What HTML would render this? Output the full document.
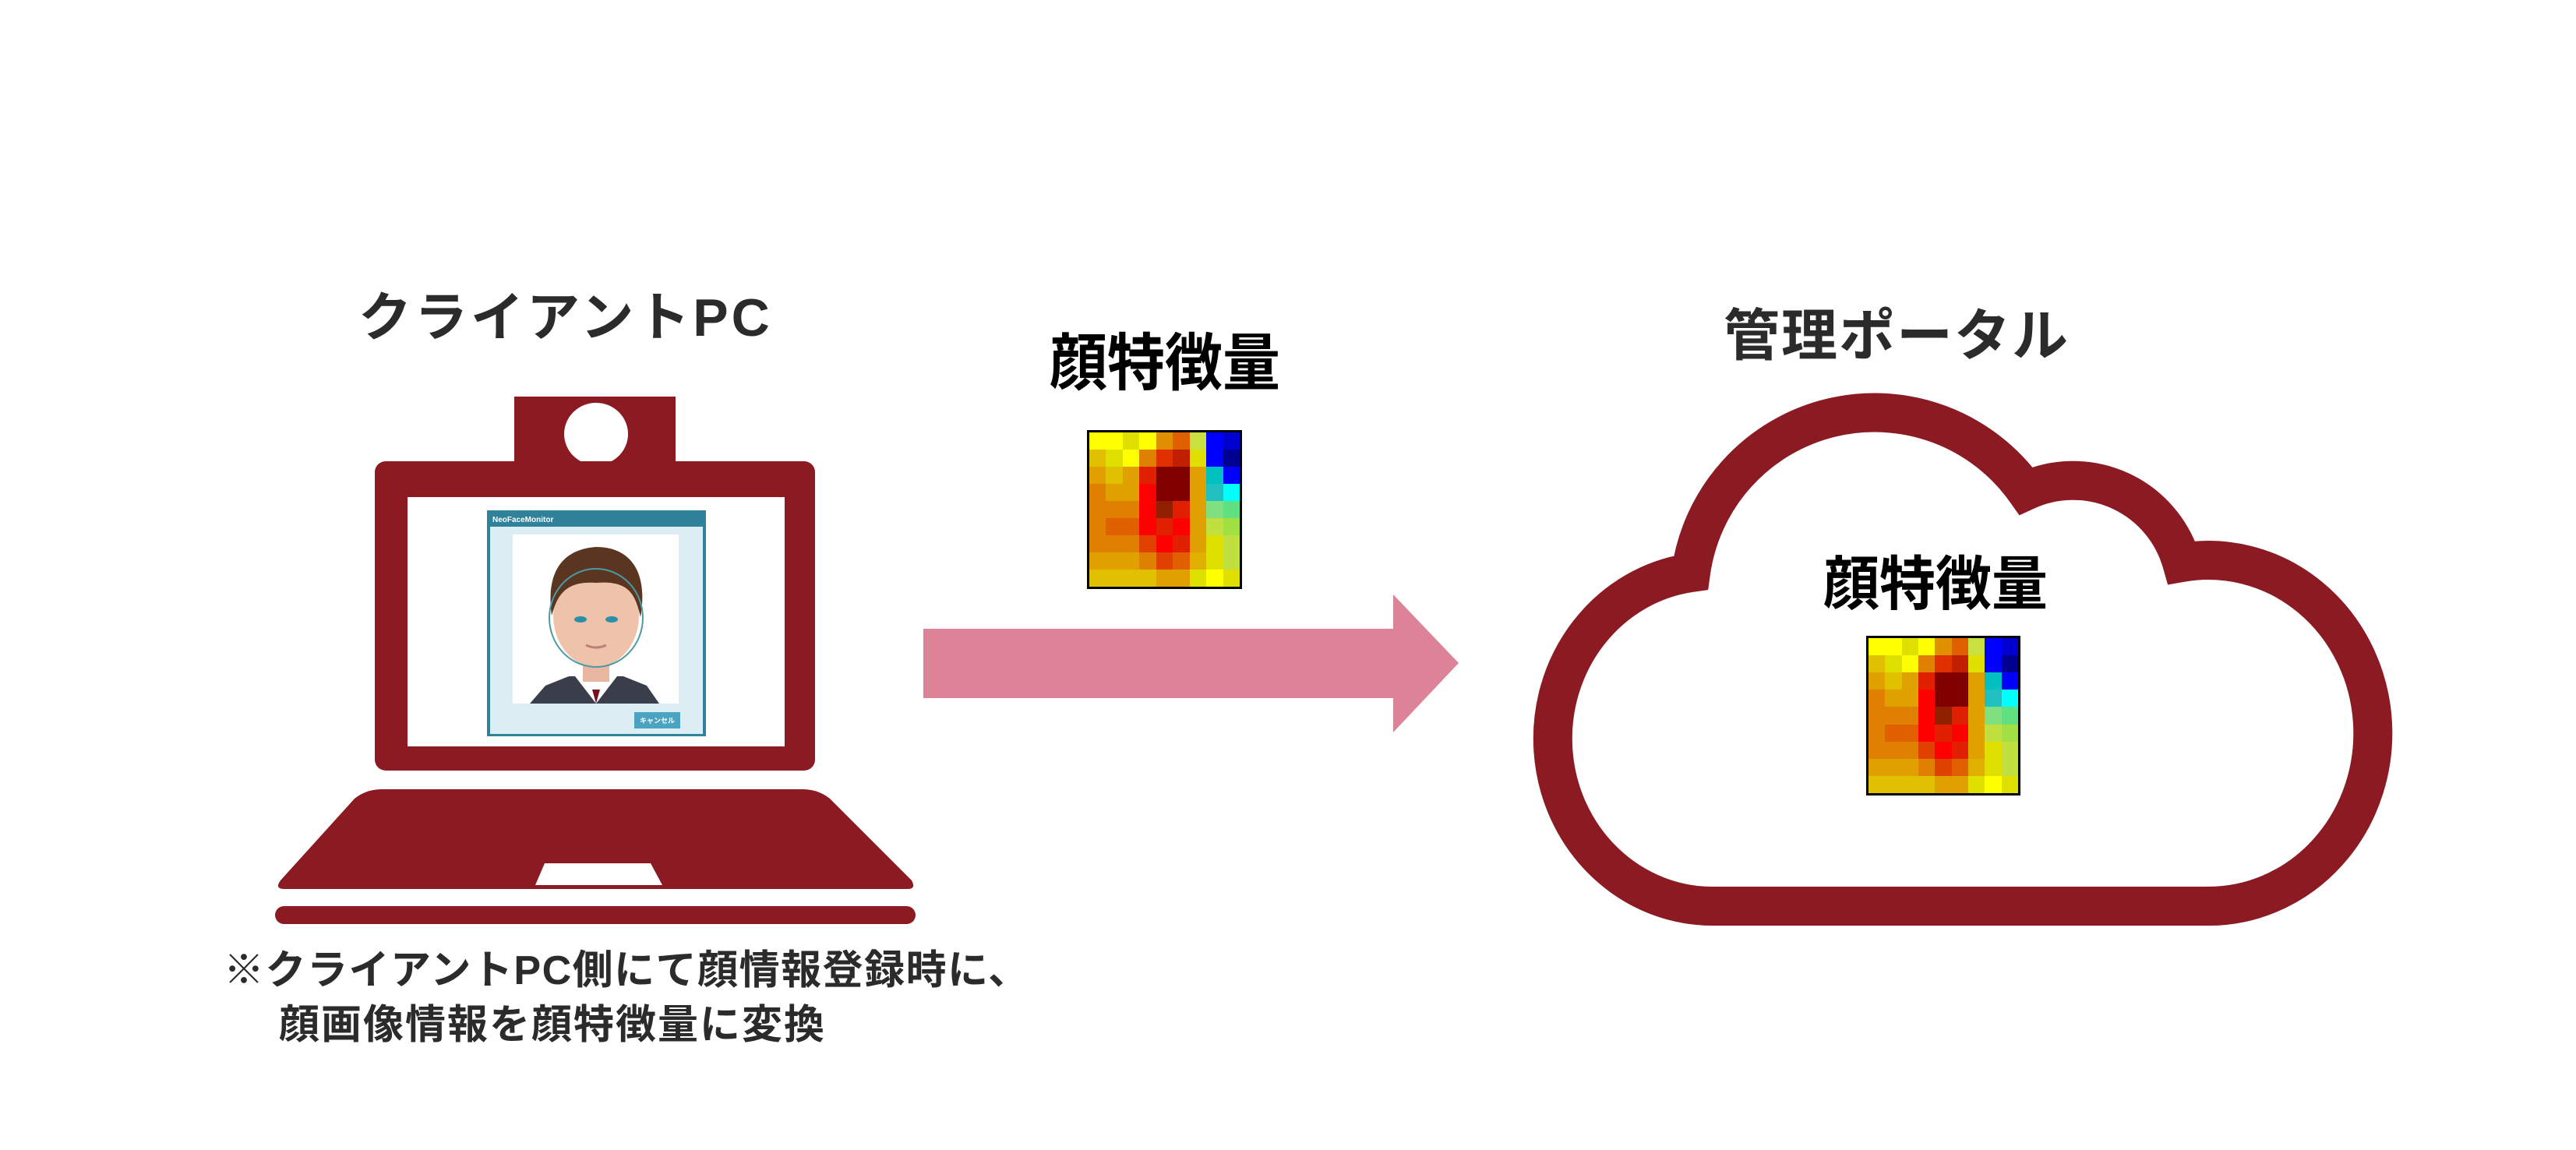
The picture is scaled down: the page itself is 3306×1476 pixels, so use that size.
<!DOCTYPE html>
<html><head><meta charset="utf-8"><style>
html,body{margin:0;padding:0;background:#fff;}
body{width:3306px;height:1476px;position:relative;overflow:hidden;font-family:"Liberation Sans","Noto Sans CJK JP",sans-serif;font-weight:bold;}
.t{position:absolute;white-space:nowrap;line-height:1;z-index:5;}
.hm{position:absolute;border:3px solid #000;box-sizing:border-box;display:grid;grid-template-columns:repeat(9,1fr);grid-template-rows:repeat(9,1fr);z-index:5;}
</style></head><body>

<svg width="3306" height="1476" style="position:absolute;left:0;top:0" xmlns="http://www.w3.org/2000/svg">
  <rect x="660" y="509" width="207" height="90" fill="#8b1a23"/>
  <ellipse cx="765" cy="557" rx="41" ry="40" fill="#fff"/>
  <rect x="481" y="592" width="565" height="397" rx="14" fill="#8b1a23"/>
  <rect x="523" y="638" width="484" height="320" fill="#fff"/>
  <rect x="625" y="655" width="281" height="290" fill="#2f8299"/>
  <rect x="629" y="676" width="273" height="266" fill="#dcedf3"/>
  <text x="632" y="670" font-size="10" fill="#fff" font-family="Liberation Sans">NeoFaceMonitor</text>
  <rect x="658" y="686" width="213" height="217" fill="#fff"/>
  <path d="M680,903 L700,880 L730,868 L800,868 L830,880 L846,903 Z" fill="#3a3d4a"/>
  <path d="M738,868 L765,903 L792,868 Z" fill="#fff"/>
  <path d="M760,885 L765,903 L770,885 Z" fill="#7a1020"/>
  <rect x="748" y="835" width="34" height="40" fill="#e9b79f"/>
  <ellipse cx="765" cy="790" rx="55" ry="66" fill="#efc2aa"/>
  <path d="M708,790 C700,730 725,705 765,702 C810,702 832,735 822,792 C815,760 805,745 765,748 C725,745 715,765 708,790 Z" fill="#5a3520"/>
  <ellipse cx="765" cy="793" rx="60" ry="63" fill="none" stroke="#4a9aa8" stroke-width="2"/>
  <ellipse cx="745" cy="795" rx="8" ry="4" fill="#2a8fa8"/>
  <ellipse cx="785" cy="795" rx="8" ry="4" fill="#2a8fa8"/>
  <path d="M752,828 Q765,834 778,828" stroke="#c0807a" stroke-width="3" fill="none"/>
  <rect x="814" y="914" width="59" height="21" fill="#4aa3c0"/>
  <text x="821" y="928" font-size="9" fill="#fff" font-family="Noto Sans CJK JP">キャンセル</text>
  <path d="M490,1013 L1030,1013 Q1050,1013 1065,1025 L1170,1130 Q1176,1141 1165,1141 L365,1141 Q352,1141 360,1130 L455,1025 Q470,1013 490,1013 Z" fill="#8b1a23"/>
  <path d="M699,1108 L835,1108 L850,1136 L687,1136 Z" fill="#fff"/>
  <rect x="353" y="1163" width="822" height="23" rx="11.5" fill="#8b1a23"/>
  <path d="M1185,807 L1788,807 L1788,763 L1872,851 L1788,940 L1788,896 L1185,896 Z" fill="#dd8398"/>
  <path d="M2200,1163 L2830,1163 A211,222 0 1 0 2800,722 A145,145 0 0 0 2600,630 A238,238 0 0 0 2170,735 A205,215 0 0 0 2200,1163 Z" fill="#fff" stroke="#8b1a23" stroke-width="50" stroke-linejoin="miter"/>
</svg>

<div class="t" style="left:460px;top:374px;font-size:68px;letter-spacing:4px;color:#2b2b2b;">クライアントPC</div>
<div class="t" style="left:1347px;top:427px;font-size:74px;color:#000;transform:scaleY(1.08);transform-origin:top left;">顔特徴量</div>
<div class="t" style="left:2212px;top:396px;font-size:72px;letter-spacing:2px;color:#2b2b2b;">管理ポータル</div>
<div class="t" style="left:2340px;top:713px;font-size:72px;color:#000;transform:scaleY(1.05);transform-origin:top left;">顔特徴量</div>
<div class="t" style="left:287px;top:1220px;font-size:52px;letter-spacing:1.5px;color:#2b2b2b;">※クライアントPC側にて顔情報登録時に、</div>
<div class="t" style="left:358px;top:1290px;font-size:52px;letter-spacing:2px;color:#2b2b2b;">顔画像情報を顔特徴量に変換</div>

<div class="hm" style="left:1395px;top:552px;width:199px;height:204px;">
<div style="background:#ffff00"></div><div style="background:#ffff00"></div><div style="background:#e0e000"></div><div style="background:#ffff00"></div><div style="background:#e09000"></div><div style="background:#e06000"></div><div style="background:#c8e040"></div><div style="background:#0000ff"></div><div style="background:#0000d0"></div>
<div style="background:#e0c000"></div><div style="background:#e0e000"></div><div style="background:#ffff00"></div><div style="background:#e08000"></div><div style="background:#e03000"></div><div style="background:#c02000"></div><div style="background:#e0e000"></div><div style="background:#0000ff"></div><div style="background:#000090"></div>
<div style="background:#e0a000"></div><div style="background:#e0c000"></div><div style="background:#e0a000"></div><div style="background:#e02000"></div><div style="background:#800000"></div><div style="background:#800000"></div><div style="background:#e0a000"></div><div style="background:#00c0c0"></div><div style="background:#0000ff"></div>
<div style="background:#e08000"></div><div style="background:#e0a000"></div><div style="background:#e0a000"></div><div style="background:#ff0000"></div><div style="background:#800000"></div><div style="background:#800000"></div><div style="background:#e0a000"></div><div style="background:#20c0c0"></div><div style="background:#00ffff"></div>
<div style="background:#e08000"></div><div style="background:#e08000"></div><div style="background:#e08000"></div><div style="background:#ff0000"></div><div style="background:#902000"></div><div style="background:#e02000"></div><div style="background:#e0a000"></div><div style="background:#80e080"></div><div style="background:#60e080"></div>
<div style="background:#e08000"></div><div style="background:#e06000"></div><div style="background:#e06000"></div><div style="background:#ff0000"></div><div style="background:#e02000"></div><div style="background:#ff0000"></div><div style="background:#e0a000"></div><div style="background:#c0e040"></div><div style="background:#a0e040"></div>
<div style="background:#e08000"></div><div style="background:#e08000"></div><div style="background:#e08000"></div><div style="background:#e04000"></div><div style="background:#ff0000"></div><div style="background:#e02000"></div><div style="background:#e0a000"></div><div style="background:#e0e000"></div><div style="background:#c0e040"></div>
<div style="background:#e0a000"></div><div style="background:#e0a000"></div><div style="background:#e0a000"></div><div style="background:#e08000"></div><div style="background:#e04000"></div><div style="background:#e06000"></div><div style="background:#e0b000"></div><div style="background:#e0e000"></div><div style="background:#c0e040"></div>
<div style="background:#e0c000"></div><div style="background:#e0c000"></div><div style="background:#e0c000"></div><div style="background:#e0c000"></div><div style="background:#e0a000"></div><div style="background:#e0a000"></div><div style="background:#e0e000"></div><div style="background:#ffff00"></div><div style="background:#e0e000"></div>
</div>

<div class="hm" style="left:2395px;top:816px;width:198px;height:205px;">
<div style="background:#ffff00"></div><div style="background:#ffff00"></div><div style="background:#e0e000"></div><div style="background:#ffff00"></div><div style="background:#e09000"></div><div style="background:#e06000"></div><div style="background:#c8e040"></div><div style="background:#0000ff"></div><div style="background:#0000d0"></div>
<div style="background:#e0c000"></div><div style="background:#e0e000"></div><div style="background:#ffff00"></div><div style="background:#e08000"></div><div style="background:#e03000"></div><div style="background:#c02000"></div><div style="background:#e0e000"></div><div style="background:#0000ff"></div><div style="background:#000090"></div>
<div style="background:#e0a000"></div><div style="background:#e0c000"></div><div style="background:#e0a000"></div><div style="background:#e02000"></div><div style="background:#800000"></div><div style="background:#800000"></div><div style="background:#e0a000"></div><div style="background:#00c0c0"></div><div style="background:#0000ff"></div>
<div style="background:#e08000"></div><div style="background:#e0a000"></div><div style="background:#e0a000"></div><div style="background:#ff0000"></div><div style="background:#800000"></div><div style="background:#800000"></div><div style="background:#e0a000"></div><div style="background:#20c0c0"></div><div style="background:#00ffff"></div>
<div style="background:#e08000"></div><div style="background:#e08000"></div><div style="background:#e08000"></div><div style="background:#ff0000"></div><div style="background:#902000"></div><div style="background:#e02000"></div><div style="background:#e0a000"></div><div style="background:#80e080"></div><div style="background:#60e080"></div>
<div style="background:#e08000"></div><div style="background:#e06000"></div><div style="background:#e06000"></div><div style="background:#ff0000"></div><div style="background:#e02000"></div><div style="background:#ff0000"></div><div style="background:#e0a000"></div><div style="background:#c0e040"></div><div style="background:#a0e040"></div>
<div style="background:#e08000"></div><div style="background:#e08000"></div><div style="background:#e08000"></div><div style="background:#e04000"></div><div style="background:#ff0000"></div><div style="background:#e02000"></div><div style="background:#e0a000"></div><div style="background:#e0e000"></div><div style="background:#c0e040"></div>
<div style="background:#e0a000"></div><div style="background:#e0a000"></div><div style="background:#e0a000"></div><div style="background:#e08000"></div><div style="background:#e04000"></div><div style="background:#e06000"></div><div style="background:#e0b000"></div><div style="background:#e0e000"></div><div style="background:#c0e040"></div>
<div style="background:#e0c000"></div><div style="background:#e0c000"></div><div style="background:#e0c000"></div><div style="background:#e0c000"></div><div style="background:#e0a000"></div><div style="background:#e0a000"></div><div style="background:#e0e000"></div><div style="background:#ffff00"></div><div style="background:#e0e000"></div>
</div>

</body></html>
